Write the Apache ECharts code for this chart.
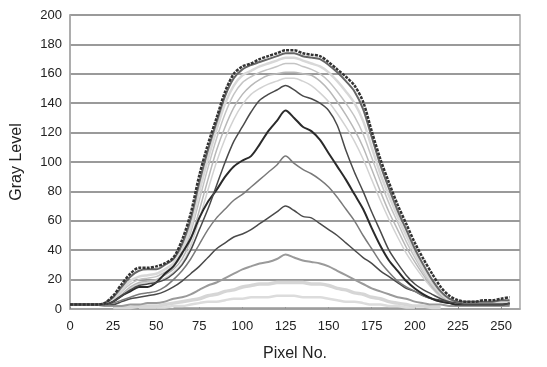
<!DOCTYPE html>
<html>
<head>
<meta charset="utf-8">
<script src="https://cdn.jsdelivr.net/npm/echarts@6/dist/echarts.min.js"></script>
<style>html,body{margin:0;padding:0;background:#fff}#c{width:547px;height:367px}</style>
</head>
<body>
<div id="c"></div>
<script>
const pixelNo = [0,5,10,15,20,25,30,35,40,45,50,55,60,65,70,75,80,85,90,95,100,105,110,115,120,125,130,135,140,145,150,155,160,165,170,175,180,185,190,195,200,205,210,215,220,225,230,235,240,245,250,255];
const yTicks = [0,20,40,60,80,100,120,140,160,180,200];
const xTicks = [0,25,50,75,100,125,150,175,200,225,250];

const s1 = [3,3,3,3,4,9,17,24,28,28,29,31,35,47,65,91,112,130,148,160,165,167,170,172,174,176,176,174,173,172,168,163,158,152,141,121,102,86,71,58,45,34,24,15,9,6,5,5,6,6,7,8];
const s2 = [3,3,3,3,4,8,15,22,26,27,27,30,34,44,61,86,108,127,145,157,163,166,168,170,172,174,174,172,171,170,166,161,155,148,136,117,98,82,67,54,41,30,20,12,7,5,5,5,5,5,6,6];
const s3 = [3,3,3,3,3,7,13,19,22,23,24,27,31,40,56,80,102,122,140,152,159,162,165,167,169,171,171,169,167,165,161,155,148,140,128,110,92,77,63,50,38,27,18,11,6,4,4,4,4,4,5,5];
const s4 = [3,3,3,3,3,6,12,17,20,21,22,25,29,37,52,74,96,116,133,146,154,158,161,163,165,167,167,165,163,160,155,148,140,131,119,103,87,72,59,46,35,25,16,10,6,4,4,4,4,4,4,5];
const s5 = [3,3,3,3,3,5,10,15,18,19,20,23,27,34,47,67,88,108,124,137,146,152,156,159,160,161,161,160,159,155,149,141,132,122,110,95,80,66,54,42,32,23,15,9,5,4,3,3,3,3,4,4];
const s6 = [3,3,3,3,3,5,9,14,17,18,19,21,25,31,43,61,81,100,116,129,139,146,150,153,155,157,157,155,152,147,141,133,124,114,102,88,74,61,49,38,29,21,14,8,5,4,3,3,3,3,3,4];
const s7 = [3,3,3,3,3,5,9,13,16,17,18,20,24,30,40,54,68,84,100,114,124,134,142,146,149,152,149,145,143,140,135,125,108,93,80,66,53,40,31,23,17,13,10,7,5,4,3,3,3,3,3,4];
const s8 = [3,3,3,3,3,5,9,12,15,15,18,24,29,38,48,62,73,81,90,97,101,104,112,121,128,135,130,124,121,115,106,97,88,78,68,55,43,33,26,19,14,10,7,5,4,3,3,3,3,3,3,4];
const s9 = [3,3,3,3,3,4,6,8,10,11,12,15,20,26,34,44,54,62,68,74,78,83,88,93,98,104,99,95,92,88,83,76,68,60,50,41,32,25,19,15,12,9,7,5,4,3,3,3,3,3,3,3];
const s10 = [3,3,3,3,3,3,5,7,8,9,10,12,15,19,24,29,35,41,45,49,51,54,58,62,66,70,67,63,62,58,54,50,45,40,35,31,26,22,18,14,12,9,7,6,5,4,3,3,3,3,3,3];
const s11 = [3,3,3,3,2,2,2,3,3,4,4,5,7,8,10,13,16,18,21,24,27,29,31,32,34,37,35,33,32,31,29,26,23,20,17,14,12,10,8,7,5,4,3,3,2,2,2,2,2,2,2,2];
const s12 = [null,null,null,null,null,1,1,1,2,2,2,3,4,5,6,7,9,10,12,13,15,16,17,17,18,18,18,18,17,17,16,14,13,11,10,8,7,5,4,3,2,2,1,1,null,null,null,null,null,null,null,null];
const s13 = [null,null,null,null,null,null,null,null,1,1,1,1,2,2,3,4,5,5,6,7,7,8,8,8,9,9,9,8,8,8,7,6,5,5,4,3,3,2,2,1,1,null,null,null,null,null,null,null,null,null,null,null];
const s14 = [null,null,null,null,null,null,null,null,null,null,null,null,0.6,0.6,0.6,0.6,0.6,0.6,0.6,0.6,0.6,0.6,0.6,0.6,0.6,0.6,0.6,0.6,0.6,0.6,0.6,0.6,0.6,0.6,0.6,0.6,0.6,0.6,0.6,0.6,null,null,null,null,null,null,null,null,null,null,null,null];

const seriesData = [s14,s13,s12,s11,s10,s9,s6,s5,s4,s3,s8,s7,s2,s1];
const seriesColor = ['#9a9a9a','#dcdcdc','#d6d6d6','#9a9a9a','#4a4a4a','#7a7a7a','#d2d2d2','#b8b8b8','#c4c4c4','#d8d8d8','#2a2a2a','#4a4a4a','#666666','#333333'];
const seriesWidth = [1.5,2.5,3.5,2,1.5,1.5,1.5,1.5,1.5,2.5,2,1.5,2,2.5];

const font = 'Liberation Sans, Arial, sans-serif';
const chart = echarts.init(document.getElementById('c'));
chart.setOption({
  animation:false,
  backgroundColor:'#fff',
  grid:{left:70,right:27,top:15,bottom:55,show:true,borderColor:'#a8a8a8',borderWidth:1.5},
  xAxis:{
    type:'value',min:0,max:261,interval:25,
    name:'Pixel No.',nameLocation:'middle',nameGap:37,
    nameTextStyle:{fontFamily:font,fontSize:16,color:'#222'},
    axisLine:{show:true,lineStyle:{color:'#a8a8a8',width:1.5}},
    axisTick:{show:true,inside:true,length:2,lineStyle:{color:'#888'}},
    axisLabel:{fontFamily:font,fontSize:13,color:'#222',margin:11,showMaxLabel:false,
      formatter:v=>xTicks.includes(v)?String(v):''},
    splitLine:{show:false}
  },
  yAxis:{
    type:'value',min:yTicks[0],max:yTicks[yTicks.length-1],interval:20,
    name:'Gray Level',nameLocation:'middle',nameGap:45,
    nameTextStyle:{fontFamily:font,fontSize:16,color:'#222'},
    axisLine:{show:true,lineStyle:{color:'#a8a8a8',width:1.5}},
    axisTick:{show:false},
    axisLabel:{fontFamily:font,fontSize:13,color:'#222',margin:8},
    splitLine:{show:true,lineStyle:{color:'#9a9a9a',width:2}}
  },
  series:seriesData.map((d,i)=>({
    type:'line',
    data:pixelNo.map((x,j)=>[x,d[j]]),
    showSymbol:false,
    smooth:0.3,
    connectNulls:false,
    lineStyle:{color:seriesColor[i],width:seriesWidth[i],type:(i===seriesData.length-1)?[3,1.2]:'solid'},
    z:2+i
  }))
});
</script>
</body>
</html>
